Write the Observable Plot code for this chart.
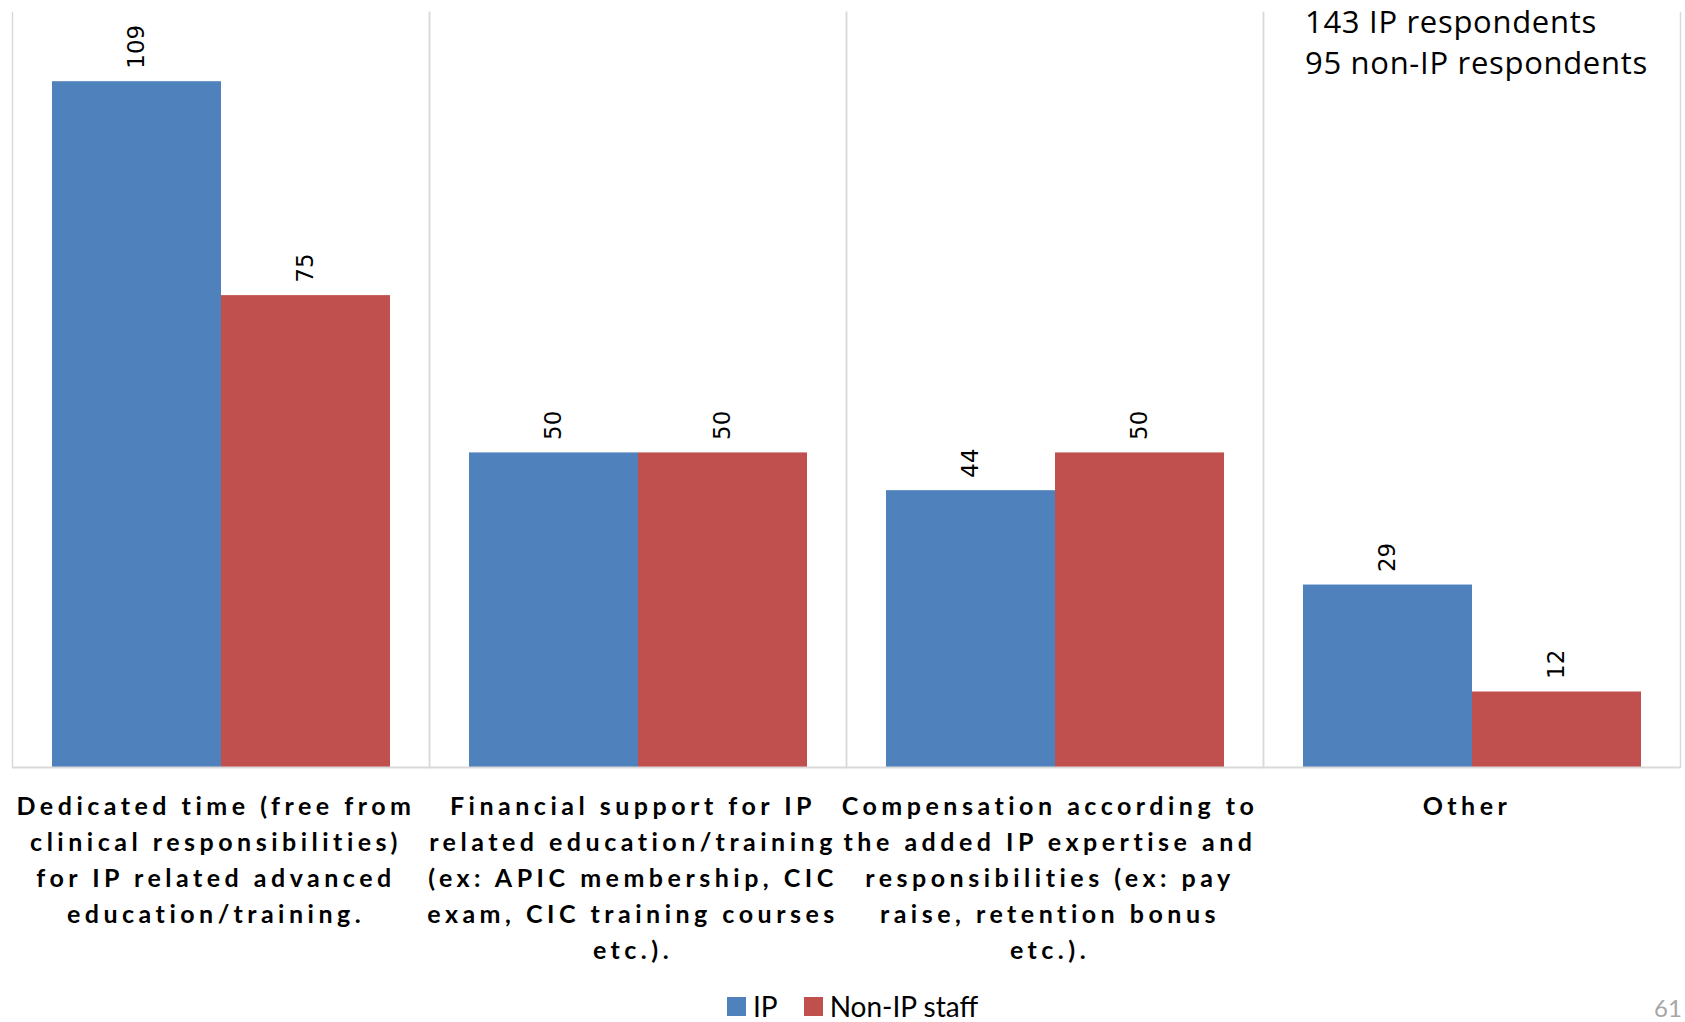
<!DOCTYPE html>
<html>
<head>
<meta charset="utf-8">
<script src="https://cdn.jsdelivr.net/npm/d3@7"></script>
<script src="https://cdn.jsdelivr.net/npm/@observablehq/plot@0.6"></script>
<style>
  html, body { margin: 0; padding: 0; background: #fff; }
  #wrap { position: relative; width: 1685px; height: 1022px; overflow: hidden; background: #fff; }
  #chart { position: absolute; left: 0; top: 0; }
  #note { position: absolute; left: 1305px; top: 1px; font-family: "Open Sans", sans-serif; font-size: 31px; line-height: 41px; letter-spacing: 0.7px; color: #000; }
  #legend { position: absolute; left: 727px; top: 996px; font-family: "Liberation Sans Narrow", Lato, sans-serif; font-size: 28px; line-height: 20px; color: #000; display: flex; align-items: center; white-space: nowrap; }
  #legend .sw { display: inline-block; width: 19px; height: 19px; margin-right: 7px; }
  #legend .item { display: inline-flex; align-items: center; margin-right: 26px; }
  #pagenum { position: absolute; left: 1654px; top: 998px; font-family: Lato, sans-serif; font-size: 24px; line-height: 20px; color: #a6a6a6; }
  g[aria-label="fx-axis tick label"] text { letter-spacing: 4.5px; }
</style>
</head>
<body>
<div id="wrap">
  <div id="chart"></div>
  <div id="note"></div>
  <div id="legend"></div>
  <div id="pagenum">61</div>
</div>
<script>
const categories = ["Dedicated time", "Financial support", "Compensation", "Other"];
const categoryLabels = [
  "Dedicated time (free from\nclinical responsibilities)\nfor IP related advanced\neducation/training.",
  "Financial support for IP\nrelated education/training\n(ex: APIC membership, CIC\nexam, CIC training courses\netc.).",
  "Compensation according to\nthe added IP expertise and\nresponsibilities (ex: pay\nraise, retention bonus\netc.).",
  "Other"
];
const series = ["IP", "Non-IP staff"];
const ipValues = [109, 50, 44, 29];
const nonIpValues = [75, 50, 50, 12];
const seriesColors = ["#4F81BD", "#C0504D"];
const noteLines = ["143 IP respondents", "95 non-IP respondents"];

const data = [];
categories.forEach((c, i) => {
  data.push({category: c, series: series[0], value: ipValues[i]});
  data.push({category: c, series: series[1], value: nonIpValues[i]});
});
const labelOf = new Map(categories.map((c, i) => [c, categoryLabels[i]]));

const chart = Plot.plot({
  width: 1685,
  height: 985,
  marginLeft: 11,
  marginRight: 5,
  marginTop: 12,
  marginBottom: 218,
  style: {background: "transparent"},
  fx: {domain: categories, padding: 0, label: null, axis: null},
  x: {domain: series, axis: null, paddingInner: 0, paddingOuter: 0.23},
  y: {domain: [0, 120], axis: null},
  color: {domain: series, range: seriesColors},
  marks: [
    Plot.frame({anchor: "left", stroke: "#d9d9d9", strokeWidth: 1.5}),
    Plot.frame({anchor: "right", stroke: "#d9d9d9", strokeWidth: 1.5}),
    Plot.barY(data, {fx: "category", x: "series", y: "value", fill: "series"}),
    Plot.ruleY([0], {stroke: "#d9d9d9", strokeWidth: 2}),
    Plot.text(data, {
      fx: "category", x: "series", y: "value", text: d => String(d.value),
      rotate: -90, textAnchor: "start", lineAnchor: "middle", dy: -13,
      fontSize: 23, fontFamily: "DejaVu Sans", fill: "#000"
    }),
    Plot.axisFx({
      anchor: "bottom", tickSize: 0, tickPadding: 22, label: null, dx: -5,
      tickFormat: d => labelOf.get(d), lineHeight: 1.44,
      fontSize: 25, fontWeight: "bold", fontFamily: "Lato", fill: "#000"
    })
  ]
});
document.getElementById("chart").appendChild(chart);

document.getElementById("note").innerHTML = noteLines.map(t => `<div>${t}</div>`).join("");
document.getElementById("legend").innerHTML = series.map((s, i) =>
  `<span class="item"><span class="sw" style="background:${seriesColors[i]}"></span>${s}</span>`).join("");
</script>
</body>
</html>
